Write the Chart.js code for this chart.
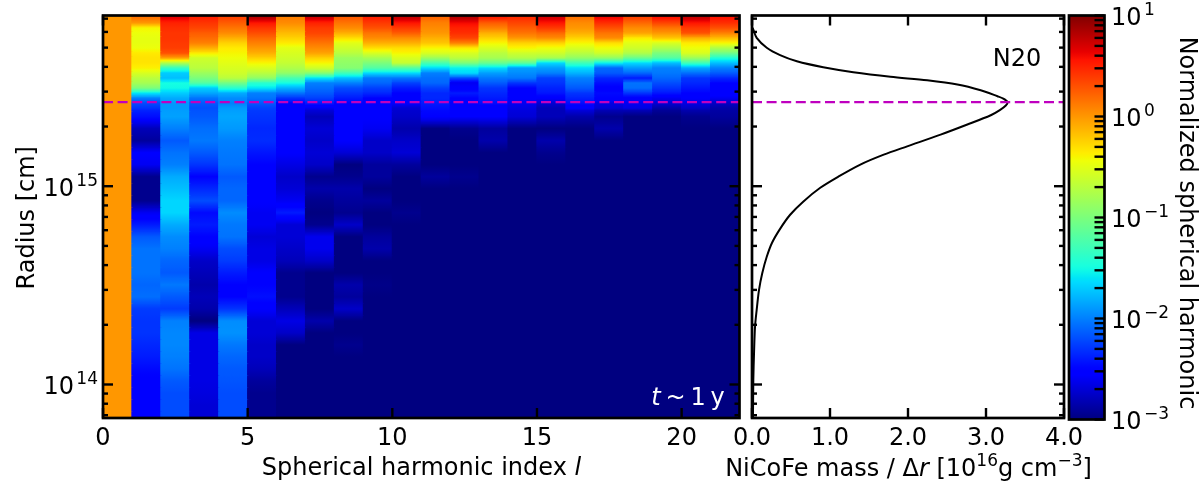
<!DOCTYPE html>
<html>
<head>
<meta charset="utf-8">
<title>Spherical harmonic power, N20</title>
<script src="https://cdn.jsdelivr.net/npm/chart.js@4/dist/chart.umd.js"></script>
<style>
  html, body { margin: 0; padding: 0; background: #fff; }
  canvas { position: absolute; left: 0; top: 0; }
</style>
</head>
<body>
<canvas id="power" width="1200" height="500"></canvas>
<canvas id="mass" width="1200" height="500"></canvas>
<canvas id="bar" width="1200" height="500"></canvas>
<script>
// log10(radius / cm) at the edges of the radial bands, top to bottom
const radiusEdges = [15.861, 15.836, 15.811, 15.785, 15.760, 15.735, 15.710, 15.684, 15.659, 15.634,
  15.609, 15.583, 15.558, 15.533, 15.508, 15.482, 15.457, 15.432, 15.407, 15.381,
  15.321, 15.260, 15.199, 15.139, 15.078, 15.018, 14.957, 14.896, 14.836, 14.775,
  14.715, 14.654, 14.593, 14.533, 14.472, 14.412, 14.351, 14.290, 14.230, 14.169,
  14.109, 14.048, 13.987, 13.927, 13.866, 13.831];

// log10 of the normalized power in every band, one array per harmonic index l
const l0 = [0,0,0,0,0,0,0,0,0,0,0,0,0,0,0,0,0,0,0,
  0,0,0,0,0,0,0,0,0,
  0,0,0,0,0,0,0,0,0,0,0,0,0,0,0,0,0];
const l1 = [.15,0,-.4,-.45,-.48,-.48,-.45,-.35,-.32,-.33,-.38,-.55,-.7,-.8,-1,-1.6,-2,-2.2,-2.3,
  -2.45,-2.8,-2.9,-2.55,-2.6,-2.95,-2.95,-2.95,-2.6,
  -2.4,-2.15,-2.05,-2.05,-2.05,-2.1,-2.07,-2.27,-2.3,-2.3,-2.35,-2.4,-2.47,-2.52,-2.52,-2.52,-2.52];
const l2 = [.65,.5,.45,.42,.42,.4,.38,.3,-.05,-.75,-1.35,-1.7,-1.75,-1.5,-1.52,-1.7,-1.83,-1.9,-1.9,
  -1.87,-2,-2.15,-2.05,-2,-1.83,-1.75,-1.66,-1.66,
  -1.83,-1.95,-2,-2.1,-2.15,-2.03,-2.15,-2.27,-2,-1.97,-1.97,-2,-2.05,-2.15,-2.2,-2.2,-2.2];
const l3 = [.5,.42,.35,.25,.18,.1,-.1,-.35,-.6,-.65,-.7,-.85,-1,-1.2,-1.7,-1.85,-2.05,-2.15,-2.2,
  -2.15,-2.07,-2.03,-2.15,-2.3,-2.5,-2.35,-2.2,-2.47,
  -2.4,-2.5,-2.6,-2.75,-2.8,-2.85,-2.8,-2.85,-3,-2.65,-2.65,-2.65,-2.65,-2.65,-2.67,-2.7,-2.7];
const l4 = [.35,.25,.15,.05,-.1,-.25,-.35,-.4,-.45,-.5,-.55,-.6,-.7,-1.05,-1.4,-1.83,-1.95,-2,-1.9,
  -1.85,-1.9,-2,-2.03,-2.05,-2.15,-2.1,-2.1,-1.95,
  -2.03,-2.05,-2.2,-2.27,-2.4,-2.5,-2.5,-2.3,-1.95,-1.93,-2.03,-2.1,-2.15,-2.17,-2.2,-2.2,-2.2];
const l5 = [.8,.55,.42,.32,.2,.1,0,-.1,-.25,-.4,-.55,-.7,-.9,-1.4,-1.6,-2,-2.05,-2.15,-2.25,
  -2.3,-2.35,-2.33,-2.42,-2.5,-2.52,-2.55,-2.55,-2.6,
  -2.6,-2.7,-2.65,-2.65,-2.55,-2.5,-2.45,-2.55,-2.7,-2.7,-2.75,-2.75,-2.8,-2.9,-2.95,-2.95,-2.95];
const l6 = [.1,.05,-.05,-.15,-.25,-.35,-.5,-.55,-.6,-.65,-.75,-.9,-1.25,-1.5,-1.8,-2.05,-2.3,-2.5,-2.55,
  -2.55,-2.5,-2.55,-2.55,-2.65,-2.75,-2.7,-2.6,-2.4,
  -2.7,-2.7,-2.75,-2.8,-2.95,-2.95,-2.95,-2.8,-2.65,-2.75,-3,-3,-3,-3,-3,-3,-3];
const l7 = [.72,.5,.4,.35,.25,.15,.05,-.05,-.25,-.4,-.6,-.95,-1.6,-2,-2.07,-2.15,-2.25,-2.4,-2.6,
  -2.8,-2.7,-2.75,-2.7,-2.75,-2.95,-2.85,-2.95,-3,
  -2.95,-2.62,-2.62,-2.75,-3,-3,-3,-3,-2.85,-3,-3,-3,-3,-3,-3,-3,-3];
const l8 = [.25,.15,.05,-.1,-.3,-.5,-.6,-.7,-.85,-.9,-.95,-1.3,-1.75,-2,-2.2,-2.3,-2.4,-2.5,-2.5,
  -2.5,-2.55,-2.55,-2.7,-3,-2.95,-2.85,-2.9,-2.95,
  -2.75,-3,-3,-3,-3,-2.85,-2.9,-2.75,-3,-3,-2.95,-3,-3,-3,-3,-3,-3];
const l9 = [.5,.4,.3,.15,.05,-.1,-.3,-.55,-.8,-1,-1.2,-1.65,-2.03,-2.1,-2.25,-2.35,-2.5,-2.5,-2.55,
  -2.55,-2.6,-2.75,-2.75,-2.9,-2.9,-3,-2.9,-3,
  -3,-2.9,-2.85,-3,-3,-2.97,-3,-3,-3,-3,-3,-3,-3,-3,-3,-3,-3];
const l10 = [.75,.55,.4,.25,.05,-.1,-.3,-.4,-.55,-.65,-1.2,-1.65,-2.03,-2.25,-2.4,-2.5,-2.5,-2.55,-2.7,
  -2.75,-2.85,-2.75,-2.7,-2.9,-3,-3,-3,-2.95,
  -3,-3,-3,-3,-3,-3,-3,-3,-3,-3,-3,-3,-3,-3,-3,-3,-3];
const l11 = [.2,.1,.05,0,-.1,-.2,-.4,-.55,-.85,-1.25,-1.65,-2,-2.07,-2.1,-2.25,-2.35,-2.35,-2.4,-2.45,
  -2.5,-3,-3,-3,-3,-2.9,-3,-3,-3,
  -3,-3,-3,-3,-3,-3,-3,-3,-3,-3,-3,-3,-3,-3,-3,-3,-3];
const l12 = [.8,.6,.5,.45,.35,.1,-.35,-.55,-.7,-1,-1.55,-1.65,-2.2,-2.6,-2.55,-2.4,-2.5,-2.5,-2.55,
  -2.55,-2.95,-3,-3,-3,-2.95,-3,-3,-3,
  -3,-3,-3,-3,-3,-3,-3,-3,-3,-3,-3,-3,-3,-3,-3,-3,-3];
const l13 = [.5,.25,.1,-.1,-.25,-.4,-.55,-.7,-.8,-1.1,-1.65,-1.88,-2.03,-2.15,-2.3,-2.35,-2.4,-2.45,-2.55,
  -2.55,-2.9,-2.85,-3,-3,-3,-3,-3,-3,
  -3,-3,-3,-3,-3,-3,-3,-3,-3,-3,-3,-3,-3,-3,-3,-3,-3];
const l14 = [.45,.35,.25,.15,0,-.25,-.4,-.6,-.75,-1.15,-1.88,-1.95,-2.03,-2.3,-2.5,-2.52,-2.55,-2.6,-2.65,
  -2.7,-3,-3,-3,-3,-3,-3,-3,-3,
  -3,-3,-3,-3,-3,-3,-3,-3,-3,-3,-3,-3,-3,-3,-3,-3,-3];
const l15 = [.7,.55,.4,.2,.05,-.25,-.45,-.6,-.8,-1.65,-1.88,-2,-2.25,-2.3,-2.37,-2.42,-2.55,-2.7,-2.8,
  -2.8,-3,-2.85,-2.95,-3,-3,-3,-3,-3,
  -3,-3,-3,-3,-3,-3,-3,-3,-3,-3,-3,-3,-3,-3,-3,-3,-3];
const l16 = [.15,.05,0,-.1,-.25,-.4,-.55,-.7,-.9,-1.3,-1.65,-1.8,-2,-2.07,-2.15,-2.3,-2.37,-2.45,-2.55,
  -2.85,-3,-3,-3,-3,-3,-3,-3,-3,
  -3,-3,-3,-3,-3,-3,-3,-3,-3,-3,-3,-3,-3,-3,-3,-3,-3];
const l17 = [.6,.45,.3,.15,.05,-.3,-.45,-.6,-.9,-1.55,-2.1,-2.15,-2.35,-2.45,-2.52,-2.47,-2.5,-2.65,-2.7,
  -2.95,-2.85,-3,-3,-3,-3,-3,-3,-3,
  -3,-3,-3,-3,-3,-3,-3,-3,-3,-3,-3,-3,-3,-3,-3,-3,-3];
const l18 = [.35,.2,.05,-.05,-.35,-.5,-.6,-.75,-1.1,-1.65,-1.9,-2.1,-2.4,-2.05,-2.07,-2.3,-2.55,-2.6,-2.65,
  -3,-3,-3,-3,-3,-3,-3,-3,-3,
  -3,-3,-3,-3,-3,-3,-3,-3,-3,-3,-3,-3,-3,-3,-3,-3,-3];
const l19 = [.55,.35,.15,0,-.2,-.55,-.75,-1,-1.2,-1.75,-2,-2.03,-2.1,-2.2,-2.3,-2.42,-2.6,-2.7,-2.85,
  -3,-3,-3,-3,-3,-3,-3,-3,-3,
  -3,-3,-3,-3,-3,-3,-3,-3,-3,-3,-3,-3,-3,-3,-3,-3,-3];
const l20 = [.75,.55,.4,.3,-.1,-.35,-.45,-.55,-.85,-1.3,-1.85,-2.07,-2.3,-2.35,-2.42,-2.5,-2.55,-2.65,-2.75,
  -2.95,-3,-3,-3,-3,-3,-3,-3,-3,
  -3,-3,-3,-3,-3,-3,-3,-3,-3,-3,-3,-3,-3,-3,-3,-3,-3];
const l21 = [.55,.45,.3,.1,-.15,-.4,-.75,-1.05,-1.45,-1.75,-2,-2.15,-2.35,-2.5,-2.52,-2.52,-2.6,-2.75,-2.85,
  -2.9,-3,-3,-3,-3,-3,-3,-3,-3,
  -3,-3,-3,-3,-3,-3,-3,-3,-3,-3,-3,-3,-3,-3,-3,-3,-3];
const harmonics = [l0, l1, l2, l3, l4, l5, l6, l7, l8, l9, l10, l11, l12, l13, l14, l15, l16, l17, l18, l19, l20, l21];

// NiCoFe mass profile
const massValues = [.004, .017, .06, .189, .36, .575, .913, 1.299, 1.775, 2.247, 2.633, 2.932, 3.147, 3.222, 3.276, 3.254, 3.177,
  3.061, 2.761, 2.418, 1.99, 1.689, 1.389, 1.106, .875, .656, .489, .36, .257, .189, .132, .09, .06,
  .039, .026, .017, .013, .012];
const massRadius = [15.80, 15.79, 15.748, 15.698, 15.661, 15.63, 15.6, 15.575, 15.552, 15.534, 15.513, 15.484,
  15.454, 15.442, 15.425, 15.407, 15.384, 15.358, 15.311, 15.26, 15.201, 15.159, 15.109, 15.048, 14.992, 14.922, 14.856, 14.785,
  14.715, 14.644, 14.562, 14.477, 14.376, 14.292, 14.158, 14.023, 13.856, 13.831];

const peakRadius = 15.424; // dashed line
const harmonicTicks = [0, 5, 10, 15, 20];
const massTicks = [0, 1, 2, 3, 4];
const radiusMajor = [1e14, 1e15];
const radiusMinor = [7e13, 8e13, 9e13, 2e14, 3e14, 4e14, 5e14, 6e14, 7e14, 8e14, 9e14, 2e15, 3e15, 4e15, 5e15, 6e15, 7e15];
const barMajor = [1e-3, 1e-2, 1e-1, 1, 10];
const barMinor = [2e-3, 3e-3, 4e-3, 5e-3, 6e-3, 7e-3, 8e-3, 9e-3, 2e-2, 3e-2, 4e-2, 5e-2, 6e-2, 7e-2, 8e-2, 9e-2,
  .2, .3, .4, .5, .6, .7, .8, .9, 2, 3, 4, 5, 6, 7, 8, 9];

const FONT = '"DejaVu Sans"';
const SIZE = 24;
const SMALL = 17;
const MAGENTA = '#bf00bf';

// jet colormap, same breakpoints as matplotlib
function ramp(t, pts) {
  for (let i = 1; i < pts.length; i++) {
    if (t <= pts[i][0]) {
      const a = pts[i - 1], b = pts[i];
      return a[1] + (b[1] - a[1]) * (t - a[0]) / (b[0] - a[0]);
    }
  }
  return pts[pts.length - 1][1];
}
function jet(t) {
  t = Math.min(1, Math.max(0, t));
  const r = ramp(t, [[0, 0], [.35, 0], [.66, 1], [.89, 1], [1, .5]]);
  const g = ramp(t, [[0, 0], [.125, 0], [.375, 1], [.64, 1], [.91, 0], [1, 0]]);
  const b = ramp(t, [[0, .5], [.11, 1], [.34, 1], [.65, 0], [1, 0]]);
  return `rgb(${Math.round(r * 255)},${Math.round(g * 255)},${Math.round(b * 255)})`;
}
const logColor = v => jet((v + 3) / 4);

// the reference shades smoothly along the radius, so each cell blends towards its neighbours
function cellFill(c, col, band) {
  const y = c.chart.scales.y;
  if (!y || y.top === undefined) return logColor(col[band]);
  const above = band > 0 ? (col[band] + col[band - 1]) / 2 : col[band];
  const below = band < col.length - 1 ? (col[band] + col[band + 1]) / 2 : col[band];
  const y0 = y.getPixelForValue(Math.pow(10, radiusEdges[band]));
  const y1 = y.getPixelForValue(Math.pow(10, radiusEdges[band + 1]));
  const g = c.chart.ctx.createLinearGradient(0, y0, 0, y1);
  g.addColorStop(0, logColor(above));
  g.addColorStop(.25, logColor(above + (col[band] - above) / 2));
  g.addColorStop(.5, logColor(col[band]));
  g.addColorStop(.75, logColor(col[band] + (below - col[band]) / 2));
  g.addColorStop(1, logColor(below));
  return g;
}

function tickList(major, minor) {
  return major.map(value => ({ value, major: true })).concat(minor.map(value => ({ value, major: false })));
}

function drawRuns(ctx, runs, x, y, align) {
  const fontOf = r => `${r.italic ? 'italic ' : ''}${r.size || SIZE}px ${FONT}`;
  let w = 0;
  runs.forEach(r => { ctx.font = fontOf(r); w += ctx.measureText(r.t).width; });
  let px = x - (align === 'left' ? 0 : align === 'right' ? w : w / 2);
  ctx.textBaseline = 'alphabetic';
  ctx.textAlign = 'left';
  runs.forEach(r => {
    ctx.font = fontOf(r);
    ctx.fillText(r.t, px, y - (r.up || 0));
    px += ctx.measureText(r.t).width;
  });
}

// frame and inward ticks, the axes themselves only place the labels
function frame(sides, minorLen) {
  return {
    id: 'frame',
    afterDatasetsDraw(chart) {
      const { ctx, chartArea: a, scales } = chart;
      ctx.save();
      ctx.strokeStyle = '#000';
      ctx.lineWidth = 2.4;
      const line = (x1, y1, x2, y2) => { ctx.beginPath(); ctx.moveTo(x1, y1); ctx.lineTo(x2, y2); ctx.stroke(); };
      scales.x && scales.x.options.display && scales.x.ticks.forEach(t => {
        const p = scales.x.getPixelForValue(t.value);
        if (sides.includes('bottom')) line(p, a.bottom, p, a.bottom - 10);
        if (sides.includes('top')) line(p, a.top, p, a.top + 10);
      });
      scales.y.ticks.forEach(t => {
        const p = scales.y.getPixelForValue(t.value);
        const len = t.major ? 10 : minorLen;
        if (sides.includes('left')) line(a.left, p, a.left + len, p);
        if (sides.includes('right')) line(a.right, p, a.right - len, p);
      });
      ctx.lineWidth = 2.7;
      ctx.strokeRect(a.left, a.top, a.right - a.left, a.bottom - a.top);
      ctx.restore();
    }
  };
}

// power of ten labels next to the y axis
function expLabels(values, x, align) {
  return {
    id: 'expLabels',
    afterDraw(chart) {
      const ctx = chart.ctx;
      ctx.save();
      ctx.fillStyle = '#000';
      values.forEach(v => {
        const e = Math.round(Math.log10(v));
        const text = (e < 0 ? '−' + (-e) : String(e));
        drawRuns(ctx, [{ t: '10' }, { t: '\u200a' }, { t: text, size: SMALL, up: 10 }], x, chart.scales.y.getPixelForValue(v) + 9.5, align);
      });
      ctx.restore();
    }
  };
}

// free labels with mixed fonts
function texts(items) {
  return {
    id: 'texts',
    afterDraw(chart) {
      const ctx = chart.ctx;
      items.forEach(it => {
        ctx.save();
        ctx.translate(it.x, it.y);
        if (it.rotate) ctx.rotate(it.rotate);
        ctx.fillStyle = it.color || '#000';
        drawRuns(ctx, it.runs, 0, 0, 'center');
        ctx.restore();
      });
    }
  };
}

const dashed = (data, xAxisID) => ({
  type: 'line', data, xAxisID, yAxisID: 'y', order: -1, borderColor: MAGENTA, borderWidth: 2.4,
  borderDash: [10, 4.6], pointRadius: 0, tension: 0
});

const labelFont = { family: FONT, size: SIZE };
const base = {
  responsive: false,
  animation: false,
  events: [],
  plugins: { legend: { display: false }, tooltip: { enabled: false } }
};
const noGrid = { display: false, drawTicks: false };
const noBorder = { display: false };

function xAxis(ticks, fmt, max) {
  return {
    type: 'linear', min: 0, max, position: 'bottom',
    grid: noGrid, border: noBorder,
    afterBuildTicks: s => { s.ticks = ticks.map(value => ({ value })); },
    afterFit: s => { s.height = 40; s.paddingLeft = 0; s.paddingRight = 0; },
    ticks: { font: labelFont, color: '#000', padding: 6, maxRotation: 0, autoSkip: false, callback: fmt }
  };
}
function logAxis(min, max, position, width, major, minor) {
  return {
    type: 'logarithmic', min, max, position,
    grid: noGrid, border: noBorder,
    afterBuildTicks: s => { s.ticks = tickList(major, minor); },
    afterFit: s => { s.width = width; s.paddingTop = 0; s.paddingBottom = 0; },
    ticks: { display: false, autoSkip: false }
  };
}

// left panel: one floating bar dataset per radial band, one bar per l
const bandSets = radiusEdges.slice(0, -1).map((top, i) => ({
  type: 'bar', xAxisID: 'cells', yAxisID: 'y',
  data: harmonics.map(() => [Math.pow(10, radiusEdges[i + 1]), Math.pow(10, top)]),
  backgroundColor: c => cellFill(c, harmonics[c.dataIndex], i),
  barPercentage: 1, categoryPercentage: 1, grouped: false, borderWidth: 0, inflateAmount: .6, order: 1
}));

const rMin = Math.pow(10, radiusEdges[radiusEdges.length - 1]);
const rMax = Math.pow(10, radiusEdges[0]);
const rPeak = Math.pow(10, peakRadius);

new Chart(document.getElementById('power'), {
  data: {
    labels: harmonics.map((c, i) => String(i)),
    datasets: bandSets.concat([dashed([{ x: 0, y: rPeak }, { x: 22, y: rPeak }], 'x')])
  },
  options: {
    ...base,
    layout: { padding: { left: 43, right: 460.5, top: 15.5, bottom: 42 } },
    scales: {
      cells: { type: 'category', display: false, offset: true, grid: noGrid },
      x: xAxis(harmonicTicks, v => String(v), 22),
      y: logAxis(rMin, rMax, 'left', 60, radiusMajor, radiusMinor)
    }
  },
  plugins: [frame(['left', 'right', 'top', 'bottom'], 5), expLabels(radiusMajor, 98, 'right'), texts([
    { x: 421.5, y: 474.5, runs: [{ t: 'Spherical harmonic index ' }, { t: 'l', italic: true }] },
    { x: 34, y: 217.75, rotate: -Math.PI / 2, runs: [{ t: 'Radius [cm]' }] },
    { x: 688, y: 405, color: '#fff', runs: [{ t: 't', italic: true }, { t: '\u2009~\u20091\u2009y' }] }
  ])]
});

// right panel: mass profile
new Chart(document.getElementById('mass'), {
  type: 'scatter',
  data: {
    datasets: [
      {
        data: massValues.map((m, i) => ({ x: m, y: Math.pow(10, massRadius[i]) })),
        showLine: true, borderColor: '#000', borderWidth: 2, pointRadius: 0, tension: .3, order: 1
      },
      dashed([{ x: 0, y: rPeak }, { x: 4, y: rPeak }], 'x')
    ]
  },
  options: {
    ...base,
    layout: { padding: { left: 752, right: 136, top: 15.5, bottom: 42 } },
    scales: {
      x: xAxis(massTicks, v => v.toFixed(1), 4),
      y: logAxis(rMin, rMax, 'left', 0, radiusMajor, radiusMinor)
    }
  },
  plugins: [frame(['left', 'right', 'top', 'bottom'], 5), texts([
    { x: 1017, y: 66, runs: [{ t: 'N20' }] },
    { x: 908.5, y: 475.5, runs: [
      { t: 'NiCoFe mass / Δ' }, { t: 'r', italic: true }, { t: ' [10' }, { t: '16', size: SMALL, up: 10 },
      { t: 'g cm' }, { t: '−3', size: SMALL, up: 10 }, { t: ']' }
    ] }
  ])]
});

// colorbar: one floating bar with the colormap as a gradient
new Chart(document.getElementById('bar'), {
  type: 'bar',
  data: {
    labels: [''],
    datasets: [{
      data: [[1e-3, 10]],
      barPercentage: 1, categoryPercentage: 1, borderWidth: 0,
      backgroundColor: c => {
        const area = c.chart.chartArea;
        if (!area) return '#000';
        const g = c.chart.ctx.createLinearGradient(0, area.bottom, 0, area.top);
        for (let i = 0; i <= 100; i++) g.addColorStop(i / 100, jet(i / 100));
        return g;
      }
    }]
  },
  options: {
    ...base,
    layout: { padding: { left: 1069, right: 0, top: 15.5, bottom: 80.5 } },
    scales: {
      x: { type: 'category', display: false, grid: noGrid },
      y: logAxis(1e-3, 10, 'right', 95.5, barMajor, barMinor)
    }
  },
  plugins: [frame(['right'], 10), expLabels(barMajor, 1111, 'left'), texts([
    { x: 1180, y: 223, rotate: Math.PI / 2, runs: [{ t: 'Normalized spherical harmonic' }] }
  ])]
});
</script>
</body>
</html>
